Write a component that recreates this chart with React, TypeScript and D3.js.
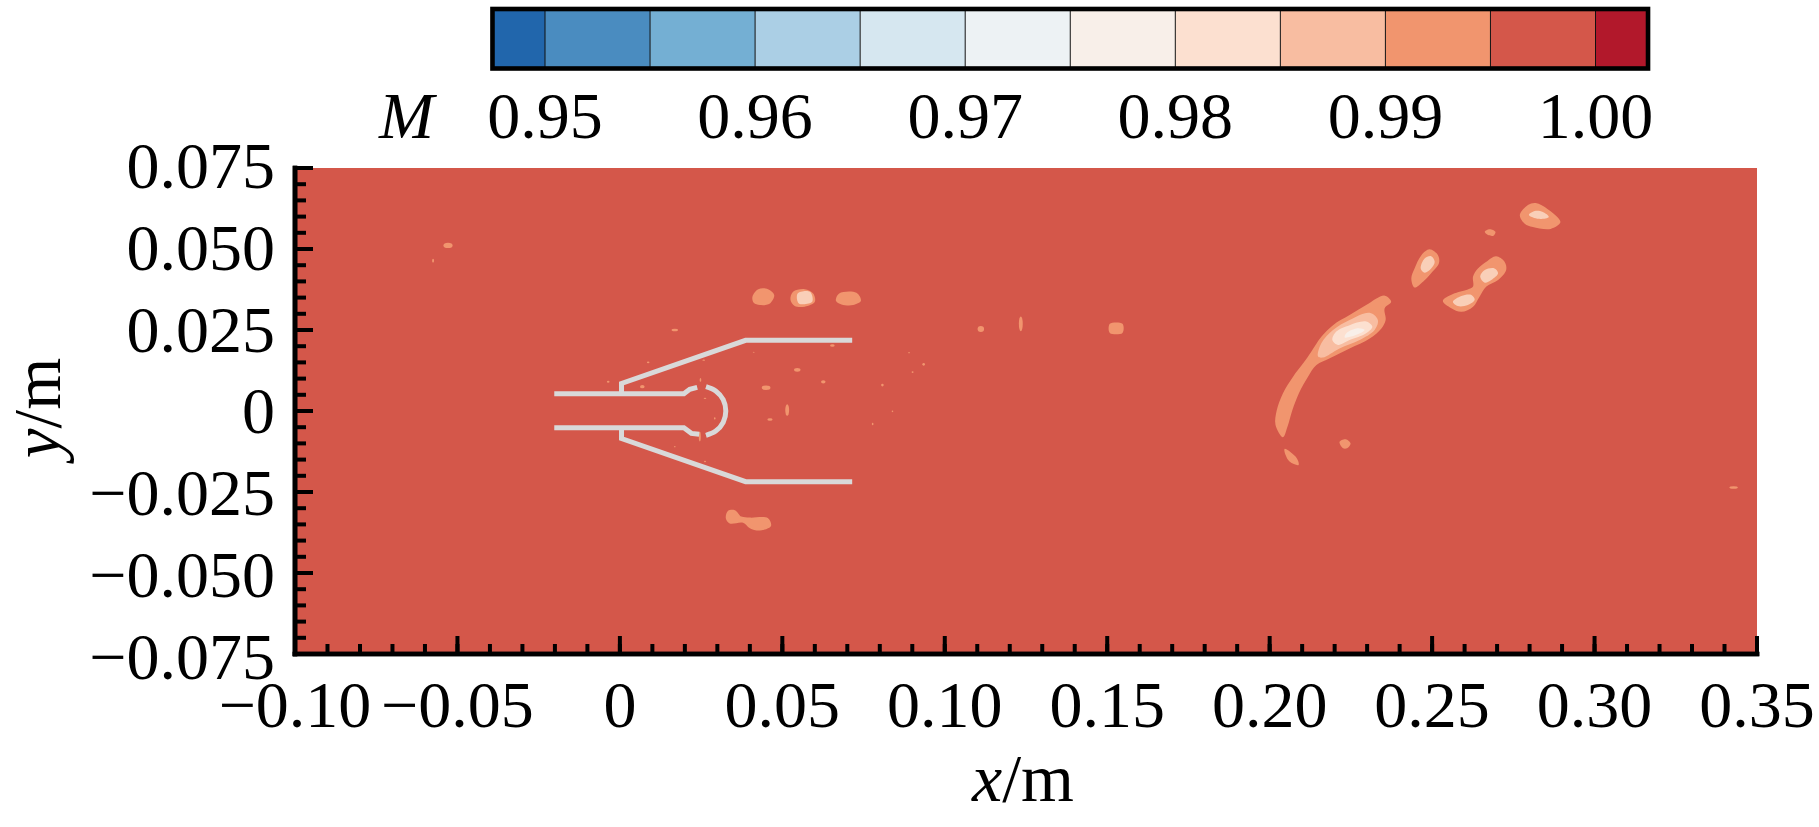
import React, { useEffect, useRef } from 'react';
import * as d3 from 'd3';

type Pt = [number, number];

const W = 1819;
const H = 827;
const FONT = '"Liberation Serif", "Times New Roman", serif';

// colour bar
const barEdges = [0.9475, 0.95, 0.955, 0.96, 0.965, 0.97, 0.975, 0.98, 0.985, 0.99, 0.995, 1.0, 1.0025];
const barColors = ['#2166ac', '#4a8cc0', '#74afd3', '#abcfe5', '#d6e7f0', '#edf2f4', '#f8efe9', '#fce0d0', '#f8bda1', '#f1956e', '#d4574a', '#b2182b'];
const barTicks = [0.95, 0.96, 0.97, 0.98, 0.99, 1.0];
const barTickLabels = ['0.95', '0.96', '0.97', '0.98', '0.99', '1.00'];
const coreColor = '#f9cfb8';

// axes
const xTicks = [-0.1, -0.05, 0, 0.05, 0.1, 0.15, 0.2, 0.25, 0.3, 0.35];
const xTickLabels = ['\u22120.10', '\u22120.05', '0', '0.05', '0.10', '0.15', '0.20', '0.25', '0.30', '0.35'];
const yTicks = [-0.075, -0.05, -0.025, 0, 0.025, 0.05, 0.075];
const yTickLabels = ['\u22120.075', '\u22120.050', '\u22120.025', '0', '0.025', '0.050', '0.075'];

// contour islands, outermost level first (x/m, y/m)
const level099: Pt[][] = [
  [[0.2041, -0.0081], [0.2018, -0.0043], [0.2022, 0.0003], [0.2041, 0.0055], [0.2072, 0.0106], [0.2103, 0.0147], [0.2128, 0.0183], [0.2159, 0.0229], [0.2195, 0.0265], [0.2246, 0.0296], [0.2297, 0.0327], [0.2354, 0.0356], [0.2374, 0.0337], [0.2354, 0.0317], [0.2357, 0.0281], [0.2344, 0.0255], [0.2308, 0.0224], [0.2246, 0.0193], [0.2185, 0.0163], [0.2144, 0.0142], [0.2118, 0.0106], [0.209, 0.0055], [0.207, 0.0003], [0.2055, -0.0048]],
  [[0.2215, -0.0095], [0.2234, -0.0087], [0.2249, -0.01], [0.2238, -0.0115], [0.2226, -0.0115]],
  [[0.2046, -0.0117], [0.2083, -0.0145], [0.2089, -0.0167], [0.2062, -0.0157], [0.2049, -0.0136]],
  [[0.2436, 0.0409], [0.2446, 0.044], [0.2467, 0.0481], [0.2492, 0.0499], [0.2518, 0.0481], [0.2521, 0.0456], [0.2497, 0.0425], [0.2472, 0.0399], [0.2446, 0.0381]],
  [[0.2533, 0.034], [0.2564, 0.0361], [0.261, 0.0375], [0.2626, 0.0384], [0.2626, 0.0415], [0.2641, 0.044], [0.2667, 0.0461], [0.2697, 0.0478], [0.2723, 0.0461], [0.2728, 0.0435], [0.2703, 0.0404], [0.2667, 0.0384], [0.2646, 0.0353], [0.2626, 0.0322], [0.259, 0.0306], [0.2559, 0.0317]],
  [[0.2662, 0.0553], [0.2677, 0.0561], [0.2695, 0.0553], [0.2689, 0.0541], [0.2672, 0.0543]],
  [[0.277, 0.0605], [0.2795, 0.0636], [0.2819, 0.0642], [0.2856, 0.0623], [0.2895, 0.0583], [0.2865, 0.0562], [0.281, 0.0568], [0.2785, 0.0578]],
  [[0.0408, 0.0353], [0.0426, 0.0376], [0.0456, 0.0376], [0.0475, 0.0358], [0.0462, 0.0332], [0.0431, 0.0327], [0.0412, 0.0334]],
  [[0.0525, 0.0343], [0.0533, 0.0368], [0.0569, 0.0376], [0.0595, 0.0363], [0.06, 0.0337], [0.0569, 0.0322], [0.0538, 0.0324]],
  [[0.0665, 0.034], [0.0675, 0.0363], [0.0728, 0.0365], [0.0742, 0.034], [0.0718, 0.0327], [0.0682, 0.0329]],
  [[0.0326, -0.0331], [0.0333, -0.0308], [0.0354, -0.0306], [0.0374, -0.0326], [0.04, -0.0329], [0.0456, -0.0331], [0.0465, -0.0355], [0.0431, -0.0369], [0.04, -0.0362], [0.0379, -0.0345], [0.0338, -0.0347]],
  [[0.1508, 0.0269], [0.1547, 0.0269], [0.1547, 0.0241], [0.1508, 0.0241]],
];
const level0985: Pt[][] = [
  [[0.2149, 0.0168], [0.2159, 0.0209], [0.2195, 0.025], [0.2246, 0.0281], [0.2308, 0.0303], [0.2333, 0.0281], [0.2323, 0.025], [0.2277, 0.0219], [0.2215, 0.0193], [0.2164, 0.0165]],
];
const level098: Pt[][] = [
  [[0.2193, 0.0219], [0.2205, 0.0245], [0.2246, 0.0265], [0.2297, 0.0276], [0.2316, 0.026], [0.2297, 0.024], [0.2246, 0.0219], [0.221, 0.0204]],
];
const level0975: Pt[][] = [
  [[0.2236, 0.024], [0.2267, 0.0255], [0.2292, 0.025], [0.2267, 0.0235], [0.2231, 0.0227]],
];
// small cores inside the separate islands
const islandCores: Pt[][] = [
  [[0.2465, 0.044], [0.2477, 0.0471], [0.2497, 0.0478], [0.2508, 0.0461], [0.2497, 0.044], [0.2477, 0.0427]],
  [[0.2648, 0.0415], [0.2662, 0.0435], [0.2692, 0.044], [0.2703, 0.0425], [0.2682, 0.0404], [0.2662, 0.0396]],
  [[0.2564, 0.0337], [0.259, 0.0355], [0.2621, 0.0358], [0.2631, 0.0343], [0.261, 0.0327], [0.2579, 0.0324]],
  [[0.2798, 0.0605], [0.2816, 0.0617], [0.2841, 0.0614], [0.2859, 0.0599], [0.2828, 0.0593]],
  [[0.0547, 0.0363], [0.0585, 0.0368], [0.0592, 0.0337], [0.0551, 0.0332]],
];

// speckles: x, y, width, height (m)
const speckles: [number, number, number, number][] = [
  [0.0546, 0.0127, 0.002, 0.0012], [0.0626, 0.009, 0.0014, 0.001], [0.045, 0.0072, 0.0027, 0.0014],
  [0.0515, 0.0003, 0.0012, 0.0036], [0.0462, -0.0026, 0.0016, 0.0008], [0.0654, 0.0202, 0.0014, 0.0008],
  [0.0935, 0.0144, 0.0008, 0.0008], [0.0901, 0.012, 0.0006, 0.0006], [0.0808, 0.008, 0.0008, 0.0008],
  [0.0839, -0.0001, 0.0005, 0.0005], [0.0778, -0.004, 0.0005, 0.0008], [0.089, 0.018, 0.0005, 0.0004],
  [0.0412, 0.0181, 0.0006, 0.0003], [0.0169, 0.025, 0.002, 0.0008], [-0.0036, 0.009, 0.0008, 0.0006],
  [0.0069, 0.0075, 0.0014, 0.001], [0.0087, 0.015, 0.0008, 0.0005], [0.0246, -0.0079, 0.0006, 0.003],
  [0.0248, 0.0096, 0.0005, 0.0012], [0.0258, 0.0157, 0.0008, 0.0004], [0.0292, -0.0023, 0.0005, 0.0007],
  [0.0262, 0.0039, 0.0008, 0.0004], [0.0169, -0.011, 0.0005, 0.0004], [0.0262, -0.0156, 0.0006, 0.0005],
  [-0.0529, 0.0511, 0.0028, 0.0016], [-0.0575, 0.0464, 0.0006, 0.0012], [0.1111, 0.0253, 0.002, 0.0018],
  [0.1234, 0.0269, 0.0012, 0.0046], [0.3428, -0.0236, 0.0026, 0.0008],
];

// nozzle outline
const nozzleUpper: Pt[] = [[-0.0202, 0.0053], [0.0197, 0.0053], [0.0215, 0.0067], [0.0238, 0.0073]];
const nozzleLower: Pt[] = [[-0.0202, -0.0052], [0.0197, -0.0052], [0.022, -0.0069], [0.0244, -0.0072]];
const capArc: Pt[] = [[0.0265, 0.0075], [0.0295, 0.0062], [0.0318, 0.0035], [0.0326, 0], [0.0318, -0.0035], [0.0295, -0.0062], [0.0265, -0.0075]];
const cowlUpper: Pt[] = [[0.0005, 0.0053], [0.0005, 0.0085], [0.0387, 0.0218], [0.0715, 0.0218]];
const cowlLower: Pt[] = [[0.0005, -0.0052], [0.0005, -0.0085], [0.0387, -0.0218], [0.0715, -0.0218]];

export default function App() {
  const svgRef = useRef<SVGSVGElement>(null);

  useEffect(() => {
    if (!svgRef.current) return;
    const svg = d3.select(svgRef.current);
    svg.selectAll('*').remove();

    const x = d3.scaleLinear().domain([-0.1, 0.35]).range([295, 1757]);
    const y = d3.scaleLinear().domain([-0.075, 0.075]).range([654, 168]);
    const cx = d3.scaleLinear().domain([0.95, 1.0]).range([545, 1595.5]);

    // field
    svg.append('rect')
      .attr('x', x(-0.1)).attr('y', y(0.075))
      .attr('width', x(0.35) - x(-0.1)).attr('height', y(-0.075) - y(0.075))
      .attr('fill', barColors[10]);

    const blob = d3.line<Pt>().x(d => x(d[0])).y(d => y(d[1])).curve(d3.curveCatmullRomClosed);
    const levels: [Pt[][], string][] = [
      [level099, barColors[9]],
      [level0985, barColors[8]],
      [level098, barColors[7]],
      [level0975, barColors[6]],
      [islandCores, coreColor],
    ];
    levels.forEach(([polys, color]) => {
      svg.append('g').selectAll('path').data(polys).join('path')
        .attr('d', d => blob(d))
        .attr('fill', color);
    });

    svg.append('g').selectAll('ellipse').data(speckles).join('ellipse')
      .attr('cx', d => x(d[0])).attr('cy', d => y(d[1]))
      .attr('rx', d => (x(d[2]) - x(0)) / 2).attr('ry', d => (y(0) - y(d[3])) / 2)
      .attr('fill', barColors[9]);

    // nozzle
    const straight = d3.line<Pt>().x(d => x(d[0])).y(d => y(d[1]));
    const round = d3.line<Pt>().x(d => x(d[0])).y(d => y(d[1])).curve(d3.curveCatmullRom);
    const gray = svg.append('g').attr('fill', 'none').attr('stroke', '#d9d9d9').attr('stroke-width', 5);
    [nozzleUpper, nozzleLower, cowlUpper, cowlLower].forEach(p => gray.append('path').attr('d', straight(p)));
    gray.append('path').attr('d', round(capArc));

    // axes
    const styleAxis = (g: any, anchor: string) => {
      g.select('.domain').attr('stroke', '#000').attr('stroke-width', 4.6).attr('stroke-linecap', 'square');
      g.selectAll('.tick line').attr('stroke', '#000').attr('stroke-width', 4);
      g.selectAll('.tick text')
        .attr('fill', '#000').attr('font-family', FONT).attr('font-size', 66).attr('text-anchor', anchor);
    };

    const xMinor = d3.range(-10, 36).map(d => d / 100);
    svg.append('g').attr('transform', `translate(0,${y(-0.075)})`)
      .call(d3.axisBottom(x).tickValues(xMinor).tickSize(-10).tickSizeOuter(0).tickFormat(() => '').offset(0) as any)
      .call(styleAxis, 'middle');
    const xAxis = svg.append('g').attr('transform', `translate(0,${y(-0.075)})`)
      .call(d3.axisBottom(x).tickValues(xTicks).tickSize(-18).tickSizeOuter(0).offset(0)
        .tickFormat((_, i) => xTickLabels[i]) as any)
      .call(styleAxis, 'middle');
    xAxis.selectAll('.tick text').attr('y', 73).attr('dy', 0);

    const yMinor = d3.range(-15, 16).map(d => d * 0.005);
    svg.append('g').attr('transform', `translate(${x(-0.1)},0)`)
      .call(d3.axisLeft(y).tickValues(yMinor).tickSize(-11).tickSizeOuter(0).tickFormat(() => '').offset(0) as any)
      .call(styleAxis, 'end');
    const yAxis = svg.append('g').attr('transform', `translate(${x(-0.1)},0)`)
      .call(d3.axisLeft(y).tickValues(yTicks).tickSize(-18).tickSizeOuter(0).offset(0)
        .tickFormat((_, i) => yTickLabels[i]) as any)
      .call(styleAxis, 'end');
    // labels sit a little further below their ticks towards the bottom of the axis
    yAxis.selectAll('.tick text').attr('x', -20)
      .attr('dy', (d: any) => 20 + ((0.075 - d) / 0.025) * 0.8);

    // axis titles
    const title = svg.append('text').attr('font-family', FONT).attr('font-size', 68).attr('fill', '#000')
      .attr('text-anchor', 'middle').attr('x', 1023).attr('y', 801);
    title.append('tspan').attr('font-style', 'italic').text('x');
    title.append('tspan').text('/m');
    const yTitle = svg.append('text').attr('font-family', FONT).attr('font-size', 67).attr('fill', '#000')
      .attr('text-anchor', 'middle').attr('transform', 'translate(60,408) rotate(-90)');
    yTitle.append('tspan').attr('font-style', 'italic').text('y');
    yTitle.append('tspan').text('/m');

    // colour bar
    const segs = barColors.map((c, i) => ({ c, a: barEdges[i], b: barEdges[i + 1] }));
    svg.append('g').selectAll('rect').data(segs).join('rect')
      .attr('x', d => cx(d.a)).attr('y', 9)
      .attr('width', d => cx(d.b) - cx(d.a)).attr('height', 59.5)
      .attr('fill', d => d.c);
    svg.append('g').selectAll('line').data(barEdges.slice(1, -1)).join('line')
      .attr('x1', d => cx(d)).attr('x2', d => cx(d)).attr('y1', 9).attr('y2', 68.5)
      .attr('stroke', '#111').attr('stroke-width', 1);
    svg.append('rect')
      .attr('x', cx(0.9475)).attr('y', 9)
      .attr('width', cx(1.0025) - cx(0.9475)).attr('height', 59.5)
      .attr('fill', 'none').attr('stroke', '#000').attr('stroke-width', 4.6);
    svg.append('g').selectAll('text').data(barTicks).join('text')
      .attr('x', d => cx(d)).attr('y', 138)
      .attr('text-anchor', 'middle').attr('font-family', FONT).attr('font-size', 66).attr('fill', '#000')
      .text((_, i) => barTickLabels[i]);
    svg.append('text')
      .attr('x', 379).attr('y', 138)
      .attr('font-family', FONT).attr('font-size', 66).attr('font-style', 'italic').attr('fill', '#000')
      .text('M');
  }, []);

  return (
    <svg
      ref={svgRef}
      width={W}
      height={H}
      style={{ position: 'absolute', left: 0, top: 0, display: 'block', background: '#fff' }}
    />
  );
}
